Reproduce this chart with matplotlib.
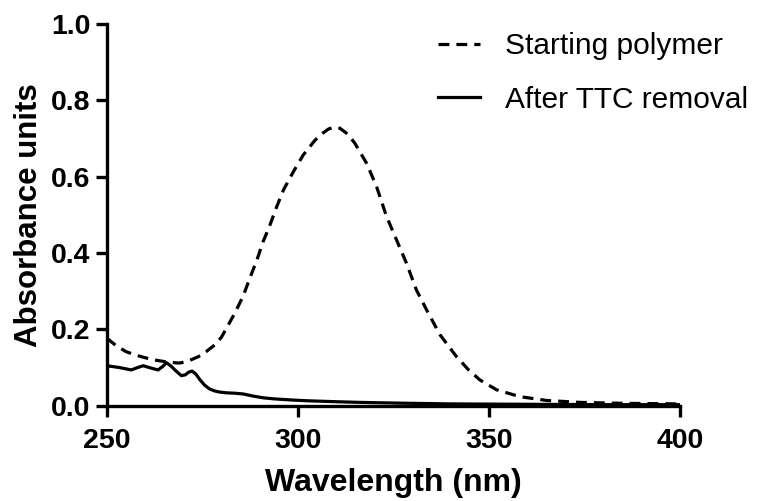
import numpy as np
import matplotlib.pyplot as plt

plt.rcParams['font.family'] = ['Liberation Sans', 'DejaVu Sans']

# Starting polymer (dashed)
wl_start = [250, 252.5, 255, 257.5, 260, 262.5, 265, 267.5, 269, 271, 274, 276, 278.3,
            280, 281.3, 283.5, 285.7, 287.4, 289.2, 290.9, 292.7, 294.4, 296.2, 298.8,
            301.4, 304.5, 306.5, 308, 309.5, 311, 313, 314.9, 318, 320.6, 323.2, 325.8,
            328.4, 331, 333.7, 337.2, 341.5, 344.5, 347.6, 352, 358.1, 365.1, 373.8,
            382.5, 390, 400]
abs_start = [0.177, 0.157, 0.142, 0.133, 0.126, 0.120, 0.116, 0.113, 0.112, 0.116, 0.129,
             0.142, 0.160, 0.180, 0.203, 0.243, 0.288, 0.334, 0.380, 0.430, 0.474, 0.520,
             0.565, 0.613, 0.657, 0.696, 0.714, 0.725, 0.730, 0.727, 0.712, 0.688, 0.635,
             0.574, 0.496, 0.435, 0.374, 0.304, 0.251, 0.186, 0.129, 0.096, 0.068, 0.042,
             0.024, 0.014, 0.009, 0.007, 0.006, 0.005]

# After TTC removal (solid)
wl_after = [250, 253.4, 256.4, 258, 259.5, 261.5, 263.4, 264.6, 265.6, 266.8, 268, 269.5,
            270.5, 271.4, 272.3, 273.3, 274.3, 275.6, 276.9, 278.2, 279.5, 281.3, 283.5,
            285.7, 288, 290.9, 294, 298.8, 303, 309.2, 316, 326.7, 340, 360, 380, 400]
abs_after = [0.105, 0.100, 0.094, 0.100, 0.105, 0.099, 0.094, 0.103, 0.113, 0.104, 0.092,
             0.079, 0.081, 0.088, 0.091, 0.083, 0.069, 0.054, 0.044, 0.039, 0.036, 0.034,
             0.033, 0.031, 0.026, 0.021, 0.018, 0.015, 0.013, 0.011, 0.009, 0.007, 0.005,
             0.004, 0.003, 0.003]

fig = plt.figure(figsize=(7.58, 5.01), dpi=100)
ax = fig.add_axes([0.141, 0.190, 0.756, 0.762])

ax.plot(wl_start, abs_start, color='black', lw=2.3, linestyle=(0, (3.4, 2.2)),
        label='Starting polymer')
ax.plot(wl_after, abs_after, color='black', lw=2.3, label='After TTC removal')

ax.set_xlim(250, 400)
ax.set_ylim(0, 1.0)
ax.set_xticks([250, 300, 350, 400])
ax.set_yticks([0.0, 0.2, 0.4, 0.6, 0.8, 1.0])
ax.set_yticklabels(['0.0', '0.2', '0.4', '0.6', '0.8', '1.0'])

for s in ['top', 'right']:
    ax.spines[s].set_visible(False)
for s in ['left', 'bottom']:
    ax.spines[s].set_linewidth(2.4)
ax.tick_params(width=2.4, length=8, labelsize=20.5)
ax.tick_params(axis='x', pad=8)
ax.tick_params(axis='y', pad=4)
for lab in ax.get_xticklabels() + ax.get_yticklabels():
    lab.set_fontweight('bold')

ax.set_xlabel('Wavelength (nm)', fontsize=23, fontweight='bold', labelpad=10)
ax.set_ylabel('Absorbance units', fontsize=22.5, fontweight='bold', labelpad=5)

leg = ax.legend(loc='upper left', bbox_to_anchor=(0.578, 0.936),
                bbox_transform=fig.transFigure, frameon=False, borderpad=0,
                borderaxespad=0, fontsize=21.5, handlelength=1.4,
                handletextpad=0.85, labelspacing=0.86)

fig.savefig('out.png', dpi=100)
